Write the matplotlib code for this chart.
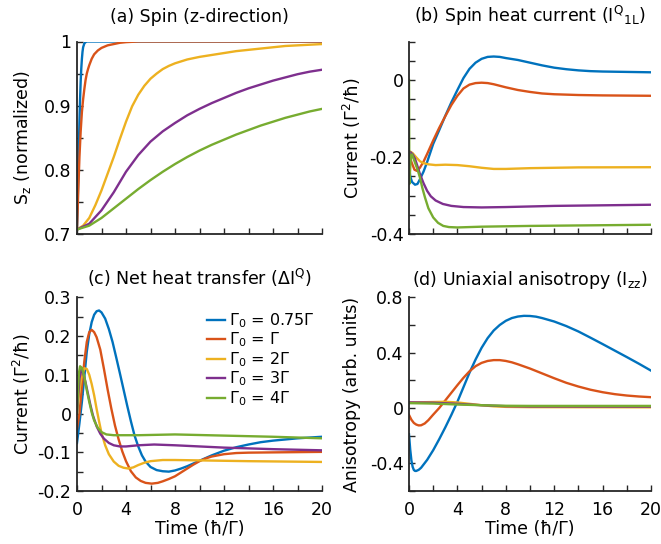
import matplotlib
matplotlib.use("Agg")
import matplotlib.pyplot as plt

plt.rcParams['font.family'] = ['DejaVu Sans']
plt.rcParams['mathtext.default'] = 'regular'

colors = ['#0072BD', '#D95319', '#EDB120', '#7E2F8E', '#77AC30']
labels = ['Γ$_0$ = 0.75Γ', 'Γ$_0$ = Γ', 'Γ$_0$ = 2Γ', 'Γ$_0$ = 3Γ', 'Γ$_0$ = 4Γ']

# ---------------- (a) Spin (z-direction) ----------------
a_blue_t = [0, 0.05, 0.1, 0.15, 0.2, 0.25, 0.3, 0.35, 0.4, 0.45, 0.5, 0.6, 0.7, 0.8, 1.0, 2, 20]
a_blue_v = [0.707, 0.745, 0.79, 0.835, 0.875, 0.91, 0.938, 0.958, 0.973, 0.984, 0.991, 0.997, 0.999, 1.0, 1.0, 1.0, 1.0]
a_red_t = [0, 0.05, 0.1, 0.2, 0.3, 0.4, 0.5, 0.6, 0.7, 0.8, 0.9, 1.0, 1.2, 1.4, 1.7, 2.0, 2.5, 3, 3.5, 4, 5, 20]
a_red_v = [0.707, 0.735, 0.765, 0.82, 0.86, 0.89, 0.91, 0.926, 0.94, 0.95, 0.957, 0.963, 0.973, 0.98, 0.986, 0.99, 0.994, 0.996, 0.998, 0.999, 1.0, 1.0]
a_yel_t = [0, 0.5, 1, 1.5, 2, 2.5, 3, 3.5, 4, 4.5, 5, 5.5, 6, 6.5, 7, 7.5, 8, 9, 10, 11, 12, 13, 14, 15, 16, 17, 18, 19, 20]
a_yel_v = [0.707, 0.713, 0.725, 0.745, 0.768, 0.794, 0.82, 0.848, 0.875, 0.899, 0.917, 0.931, 0.942, 0.95, 0.957, 0.962, 0.966, 0.972, 0.976, 0.979, 0.982, 0.985, 0.987, 0.989, 0.991, 0.993, 0.994, 0.995, 0.996]
a_pur_t = [0, 1, 2, 3, 4, 5, 6, 7, 8, 9, 10, 11, 12, 13, 14, 15, 16, 17, 18, 19, 20]
a_pur_v = [0.707, 0.716, 0.737, 0.765, 0.797, 0.823, 0.844, 0.86, 0.873, 0.885, 0.895, 0.904, 0.912, 0.92, 0.927, 0.933, 0.939, 0.944, 0.949, 0.953, 0.956]
a_grn_t = [0, 1, 2, 3, 4, 5, 6, 7, 8, 9, 10, 11, 12, 13, 14, 15, 16, 17, 18, 19, 20]
a_grn_v = [0.707, 0.713, 0.725, 0.74, 0.755, 0.77, 0.784, 0.797, 0.809, 0.82, 0.83, 0.839, 0.847, 0.855, 0.862, 0.869, 0.875, 0.881, 0.886, 0.891, 0.895]

# ---------------- (b) Spin heat current ----------------
b_blue_t = [0, 0.1, 0.25, 0.5, 0.7, 0.9, 1.2, 1.5, 2, 2.5, 3, 3.5, 4, 4.5, 5, 5.5, 6, 6.5, 7, 7.5, 8, 9, 10, 11, 12, 13, 14, 15, 16, 18, 20]
b_blue_v = [-0.22, -0.25, -0.265, -0.272, -0.27, -0.258, -0.238, -0.213, -0.166, -0.13, -0.093, -0.058, -0.026, 0.005, 0.029, 0.045, 0.055, 0.06, 0.061, 0.06, 0.057, 0.052, 0.045, 0.038, 0.032, 0.028, 0.025, 0.023, 0.022, 0.021, 0.020]
b_red_t = [0, 0.2, 0.45, 0.65, 0.9, 1.2, 1.5, 2, 2.5, 3, 3.5, 4, 4.5, 5, 5.5, 6, 6.5, 7, 7.5, 8, 9, 10, 11, 12, 14, 16, 20]
b_red_v = [-0.19, -0.213, -0.233, -0.236, -0.228, -0.212, -0.192, -0.157, -0.124, -0.094, -0.065, -0.041, -0.022, -0.012, -0.008, -0.007, -0.008, -0.011, -0.015, -0.019, -0.026, -0.031, -0.035, -0.037, -0.039, -0.040, -0.041]
b_yel_t = [0, 0.1, 0.3, 0.6, 0.9, 1.2, 1.6, 2.2, 3, 4, 5, 6, 7, 8, 10, 14, 20]
b_yel_v = [-0.19, -0.186, -0.19, -0.201, -0.211, -0.216, -0.219, -0.221, -0.22, -0.221, -0.224, -0.228, -0.231, -0.231, -0.229, -0.227, -0.2265]
b_pur_t = [0, 0.1, 0.3, 0.5, 0.7, 0.9, 1.2, 1.5, 1.8, 2.2, 2.8, 3.5, 4.5, 6, 8, 12, 20]
b_pur_v = [-0.2, -0.187, -0.193, -0.205, -0.224, -0.244, -0.268, -0.288, -0.302, -0.313, -0.322, -0.327, -0.33, -0.331, -0.33, -0.327, -0.324]
b_grn_t = [0.0, 0.03, 0.08, 0.15, 0.25, 0.5, 0.7, 0.9, 1.1, 1.32, 1.6, 2.0, 2.4, 2.83, 3.3, 4, 6, 10, 20]
b_grn_v = [0.0, -0.27, -0.24, -0.2, -0.193, -0.215, -0.232, -0.253, -0.28, -0.305, -0.333, -0.357, -0.371, -0.379, -0.382, -0.383, -0.381, -0.379, -0.376]

# ---------------- (c) Net heat transfer ----------------
c_blue_t = [0, 0.2, 0.4, 0.6, 0.8, 1.0, 1.2, 1.4, 1.6, 1.8, 2.0, 2.3, 2.6, 2.9, 3.2, 3.5, 3.8, 4.1, 4.4, 4.7, 5.0, 5.3, 5.6, 6.0, 6.5, 7.0, 7.5, 8, 8.5, 9, 9.5, 10, 11, 12, 13, 14, 15, 16, 17, 18, 19, 20]
c_blue_v = [-0.076, -0.025, 0.03, 0.095, 0.16, 0.205, 0.236, 0.255, 0.264, 0.266, 0.261, 0.245, 0.218, 0.185, 0.145, 0.104, 0.062, 0.02, -0.02, -0.057, -0.085, -0.108, -0.124, -0.138, -0.146, -0.149, -0.15, -0.147, -0.142, -0.136, -0.129, -0.122, -0.108, -0.096, -0.087, -0.08, -0.074, -0.07, -0.067, -0.064, -0.062, -0.06]
c_red_t = [0, 0.2, 0.4, 0.6, 0.8, 1.0, 1.2, 1.4, 1.6, 1.9, 2.2, 2.5, 2.8, 3.1, 3.4, 3.7, 4.0, 4.4, 4.8, 5.2, 5.6, 6.1, 6.6, 7, 7.5, 8, 8.5, 9, 9.5, 10, 10.5, 11, 12, 13, 14, 17, 20]
c_red_v = [-0.04, 0.0, 0.07, 0.135, 0.185, 0.21, 0.216, 0.21, 0.197, 0.165, 0.115, 0.062, 0.013, -0.031, -0.067, -0.098, -0.123, -0.149, -0.165, -0.174, -0.179, -0.181, -0.179, -0.175, -0.169, -0.162, -0.152, -0.142, -0.132, -0.123, -0.116, -0.111, -0.105, -0.102, -0.101, -0.1, -0.099]
c_yel_t = [0, 0.2, 0.4, 0.6, 0.8, 1.0, 1.2, 1.4, 1.6, 1.8, 2.0, 2.3, 2.6, 3.0, 3.4, 3.8, 4.2, 4.6, 5.0, 5.5, 6, 7, 8, 10, 14, 20]
c_yel_v = [0.0, 0.06, 0.1, 0.117, 0.115, 0.1, 0.076, 0.047, 0.012, -0.02, -0.05, -0.082, -0.105, -0.124, -0.135, -0.14, -0.142, -0.139, -0.133, -0.127, -0.123, -0.12, -0.12, -0.121, -0.123, -0.125]
c_pur_t = [0, 0.1, 0.2, 0.35, 0.5, 0.7, 0.9, 1.1, 1.3, 1.6, 1.9, 2.2, 2.6, 3.0, 3.5, 4, 5, 6.3, 8, 10, 12, 16, 20]
c_pur_v = [0.0, 0.05, 0.09, 0.113, 0.105, 0.08, 0.05, 0.021, -0.005, -0.033, -0.052, -0.065, -0.076, -0.082, -0.085, -0.085, -0.082, -0.08, -0.082, -0.085, -0.088, -0.092, -0.095]
c_grn_t = [0, 0.08, 0.16, 0.25, 0.4, 0.6, 0.8, 1.0, 1.2, 1.4, 1.7, 2.0, 2.4, 3, 5, 8, 12, 16, 20]
c_grn_v = [0.0, 0.06, 0.105, 0.122, 0.118, 0.095, 0.06, 0.03, 0.003, -0.018, -0.037, -0.048, -0.054, -0.056, -0.056, -0.054, -0.057, -0.06, -0.064]

# ---------------- (d) Uniaxial anisotropy ----------------
d_blue_t = [0, 0.1, 0.2, 0.3, 0.4, 0.5, 0.6, 0.8, 1.0, 1.5, 2, 2.5, 3, 3.5, 4, 4.5, 5, 5.5, 6, 6.5, 7, 7.5, 8, 8.5, 9, 9.5, 10, 10.5, 11, 12, 13, 14, 15, 16, 17, 18, 19, 20]
d_blue_v = [-0.19, -0.3, -0.38, -0.425, -0.448, -0.455, -0.455, -0.447, -0.432, -0.375, -0.305, -0.225, -0.14, -0.05, 0.045, 0.15, 0.255, 0.35, 0.435, 0.505, 0.56, 0.6, 0.63, 0.65, 0.661, 0.666, 0.665, 0.66, 0.65, 0.625, 0.592, 0.553, 0.508, 0.462, 0.415, 0.368, 0.32, 0.27]
d_red_t = [0, 0.2, 0.4, 0.6, 0.8, 1.0, 1.3, 1.6, 2, 2.5, 3, 3.5, 4, 4.5, 5, 5.5, 6, 6.5, 7, 7.5, 8, 8.5, 9, 10, 11, 12, 13, 14, 15, 16, 17, 18, 19, 20]
d_red_v = [-0.05, -0.085, -0.108, -0.12, -0.126, -0.125, -0.112, -0.088, -0.048, 0.0, 0.055, 0.11, 0.165, 0.218, 0.265, 0.302, 0.326, 0.34, 0.346, 0.346, 0.34, 0.33, 0.316, 0.285, 0.25, 0.215, 0.182, 0.155, 0.132, 0.114, 0.1, 0.09, 0.083, 0.078]
d_yel_t = [0, 2, 3, 4, 5, 6, 7, 8, 10, 20]
d_yel_v = [0.04, 0.043, 0.045, 0.04, 0.03, 0.02, 0.012, 0.008, 0.006, 0.005]
d_pur_t = [0, 2, 4, 6, 8, 10, 20]
d_pur_v = [0.04, 0.038, 0.03, 0.02, 0.013, 0.011, 0.01]
d_grn_t = [0, 2, 4, 6, 8, 10, 20]
d_grn_v = [0.035, 0.032, 0.025, 0.02, 0.016, 0.015, 0.015]

panels = {
    'a': [(a_blue_t, a_blue_v), (a_red_t, a_red_v), (a_yel_t, a_yel_v), (a_pur_t, a_pur_v), (a_grn_t, a_grn_v)],
    'b': [(b_blue_t, b_blue_v), (b_red_t, b_red_v), (b_yel_t, b_yel_v), (b_pur_t, b_pur_v), (b_grn_t, b_grn_v)],
    'c': [(c_blue_t, c_blue_v), (c_red_t, c_red_v), (c_yel_t, c_yel_v), (c_pur_t, c_pur_v), (c_grn_t, c_grn_v)],
    'd': [(d_blue_t, d_blue_v), (d_red_t, d_red_v), (d_yel_t, d_yel_v), (d_pur_t, d_pur_v), (d_grn_t, d_grn_v)],
}

titles = {
    'a': '(a) Spin (z-direction)',
    'b': '(b) Spin heat current (I$^{Q}$$_{1L}$)',
    'c': '(c) Net heat transfer (ΔI$^{Q}$)',
    'd': '(d) Uniaxial anisotropy (I$_{zz}$)',
}
ylabels = {
    'a': 'S$_z$ (normalized)',
    'b': 'Current (Γ$^2$/ħ)',
    'c': 'Current (Γ$^2$/ħ)',
    'd': 'Anisotropy (arb. units)',
}
yticks = {
    'a': [0.7, 0.75, 0.8, 0.85, 0.9, 0.95, 1.0],
    'b': [-0.4, -0.35, -0.3, -0.25, -0.2, -0.15, -0.1, -0.05, 0.0, 0.05, 0.1],
    'c': [-0.2, -0.15, -0.1, -0.05, 0.0, 0.05, 0.1, 0.15, 0.2, 0.25, 0.3],
    'd': [-0.6, -0.4, -0.2, 0.0, 0.2, 0.4, 0.6, 0.8],
}
yticklabels = {
    'a': ['0.7', '', '0.8', '', '0.9', '', '1'],
    'b': ['-0.4', '', '', '', '-0.2', '', '', '', '0', '', ''],
    'c': ['-0.2', '', '-0.1', '', '0', '', '0.1', '', '0.2', '', '0.3'],
    'd': ['', '-0.4', '', '0', '', '0.4', '', '0.8'],
}
xticks = [0, 2, 4, 6, 8, 10, 12, 14, 16, 18, 20]
xticklabels = ['0', '', '4', '', '8', '', '12', '', '16', '', '20']

W, H = 661, 544
fig = plt.figure(figsize=(W / 100, H / 100), dpi=100)

boxes = {
    'a': (77, 41.5, 322, 234),
    'b': (409, 41.5, 651, 234),
    'c': (77, 297.3, 322, 491),
    'd': (409, 297.3, 651, 491),
}
ylabel_x = {'a': -0.18, 'b': -0.19, 'c': -0.18, 'd': -0.198}
axis_col = '#262626'
fs = 12.5

for key in ['a', 'b', 'c', 'd']:
    x0, y0, x1, y1 = boxes[key]
    ax = fig.add_axes([x0 / W, (H - y1) / H, (x1 - x0) / W, (y1 - y0) / H])
    for (t, v), col in zip(panels[key], colors):
        ax.plot(t, v, color=col, lw=1.7, solid_joinstyle='round')
    ax.set_xlim(0, 20)
    ax.set_ylim(yticks[key][0], yticks[key][-1])
    ax.set_yticks(yticks[key])
    ax.set_yticklabels(yticklabels[key])
    ax.set_xticks(xticks)
    if key in ('c', 'd'):
        ax.set_xticklabels(xticklabels)
        ax.set_xlabel('Time (ħ/Γ)', fontsize=fs, color='black')
        ax.xaxis.set_label_coords(0.5, -0.15)
    else:
        ax.set_xticklabels([''] * len(xticks))
    ax.spines['top'].set_visible(False)
    ax.spines['right'].set_visible(False)
    for s in ('left', 'bottom'):
        ax.spines[s].set_color(axis_col)
        ax.spines[s].set_linewidth(1.3)
    ax.tick_params(direction='in', length=4, width=1.0, color=axis_col,
                   labelsize=fs, labelcolor='black')
    ax.tick_params(axis='x', pad=7)
    ax.tick_params(axis='y', pad=4)
    ax.set_ylabel(ylabels[key], fontsize=fs, color='black')
    ax.yaxis.set_label_coords(ylabel_x[key], 0.5)
    pad = 14 if key in ('a', 'b') else 9
    ax.set_title(titles[key], fontsize=fs, pad=pad, color='black')
    if key == 'c':
        handles = ax.get_lines()
        ax.legend(handles, labels, loc='upper right', frameon=False,
                  fontsize=11.5, handlelength=1.1, handletextpad=0.25,
                  labelspacing=0.05, borderaxespad=0.1,
                  bbox_to_anchor=(1.0, 0.97))

fig.savefig('out.png', dpi=100)
